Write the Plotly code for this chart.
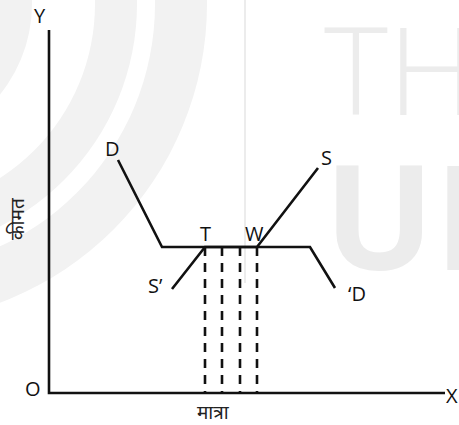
import plotly.graph_objects as go

# ---- data (economic units) ----
demand_q = [6.9, 11.3, 26.1, 28.6]
demand_p = [23.3, 14.6, 14.6, 10.5]
supply_q = [12.3, 15.6, 20.8, 26.9]
supply_p = [10.4, 14.6, 14.6, 22.5]
dash_q = [15.6, 17.3, 19.1, 20.8]
price_level = 14.6
y_axis_top = 36.3
x_axis_end = 39.6

labels = ["D", "T", "W", "S", "S\u2019", "\u2018D"]
label_q = [6.3, 15.6, 20.5, 27.7, 10.6, 30.8]
label_p = [24.5, 16.0, 16.0, 23.6, 10.8, 10.0]

W, H = 459, 425
X0, Y0, K = 49, 393, 10.0  # origin pixel and pixels per unit

fig = go.Figure()

# axes
fig.add_trace(go.Scatter(x=[0, 0, x_axis_end], y=[y_axis_top, 0, 0], mode="lines",
                         line=dict(color="#111", width=2.6), hoverinfo="skip"))
# demand
fig.add_trace(go.Scatter(x=demand_q, y=demand_p, mode="lines",
                         line=dict(color="#111", width=2.6), hoverinfo="skip"))
# supply
fig.add_trace(go.Scatter(x=supply_q, y=supply_p, mode="lines",
                         line=dict(color="#111", width=2.6), hoverinfo="skip"))
# dashed verticals
for q in dash_q:
    fig.add_trace(go.Scatter(x=[q, q], y=[price_level, 0], mode="lines",
                             line=dict(color="#111", width=2.6, dash="9px,7px"),
                             hoverinfo="skip"))

font = dict(family="Open Sans, DejaVu Sans", size=20, color="#111")
for t, q, p in zip(labels, label_q, label_p):
    fig.add_annotation(x=q, y=p, text=t, showarrow=False, font=font,
                       xanchor="center", yanchor="middle")
fig.add_annotation(x=-0.9, y=37.8, text="Y", showarrow=False, font=font)
fig.add_annotation(x=-1.6, y=0.5, text="O", showarrow=False, font=font)
fig.add_annotation(x=40.3, y=-0.2, text="X", showarrow=False, font=font)

hfont = dict(family="Noto Sans, DejaVu Sans", size=19, color="#222")
fig.add_annotation(x=16.4, y=-1.9, text="मात्रा", showarrow=False, font=hfont)
fig.add_annotation(x=-3.2, y=17.4, text="कीमत", showarrow=False, font=hfont, textangle=-90)

# watermark (decorative)
def px(x):
    return x / W
def py(y):
    return 1 - y / H
cx, cy = -112, 4
shapes = []
for r, col in [(319, "#f2f2f2"), (267, "#ffffff"), (249, "#f2f2f2"), (207, "#ffffff"), (144, "#f2f2f2")]:
    shapes.append(dict(type="circle", xref="paper", yref="paper",
                       x0=px(cx - r), x1=px(cx + r), y0=py(cy + r), y1=py(cy - r),
                       fillcolor=col, line=dict(width=0), layer="below"))
shapes.append(dict(type="line", xref="paper", yref="paper", x0=px(245), x1=px(245),
                   y0=py(0), y1=py(283), line=dict(color="#e6e6e6", width=1.5), layer="below"))
fig.update_layout(shapes=shapes)
fig.add_annotation(xref="paper", yref="paper", x=px(322), y=py(68), text="TH", showarrow=False,
                   xanchor="left", yanchor="middle",
                   font=dict(family="Open Sans", size=122, color="#ececec", weight=300))
fig.add_annotation(xref="paper", yref="paper", x=px(322), y=py(213), text="UN", showarrow=False,
                   xanchor="left", yanchor="middle",
                   font=dict(family="Open Sans", size=146, color="#ececec", weight=700))

fig.update_layout(
    width=W, height=H, margin=dict(l=0, r=0, t=0, b=0),
    paper_bgcolor="white", plot_bgcolor="rgba(0,0,0,0)", showlegend=False,
    xaxis=dict(range=[(0 - X0) / K, (W - X0) / K], visible=False, fixedrange=True),
    yaxis=dict(range=[(Y0 - H) / K, Y0 / K], visible=False, fixedrange=True),
)
fig.write_html("out.html", config={"displayModeBar": False},
               post_script="document.body.style.margin='0px';document.body.style.overflow='hidden';")
